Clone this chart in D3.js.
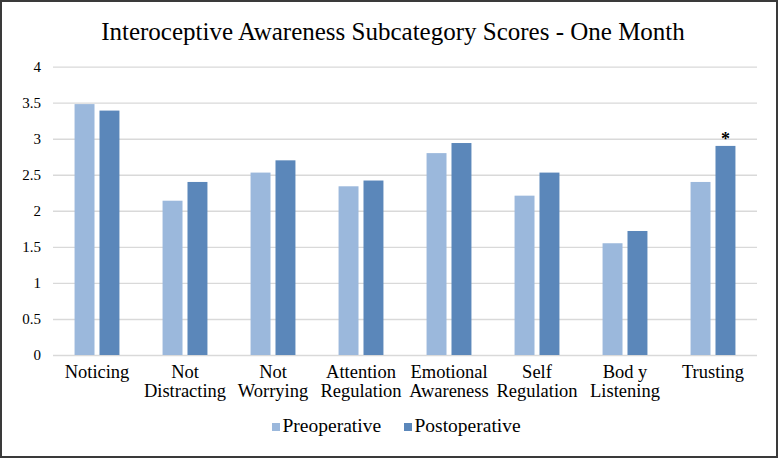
<!DOCTYPE html>
<html>
<head>
<meta charset="utf-8">
<script src="https://cdn.jsdelivr.net/npm/d3@7"></script>
<style>
  html, body { margin: 0; padding: 0; background: #fff; }
  svg { display: block; }
</style>
</head>
<body>
<svg id="chart" width="778" height="458"></svg>
<script>
const title = "Interoceptive Awareness Subcategory Scores - One Month";
const categories = ["Noticing", "Not\nDistracting", "Not\nWorrying", "Attention\nRegulation",
  "Emotional\nAwareness", "Self\nRegulation", "Bod y\nListening", "Trusting"];
const seriesNames = ["Preoperative", "Postoperative"];
const preoperative = [3.48, 2.14, 2.53, 2.34, 2.80, 2.21, 1.55, 2.40];
const postoperative = [3.39, 2.40, 2.70, 2.42, 2.94, 2.53, 1.72, 2.90];
const yTicks = [0, 0.5, 1, 1.5, 2, 2.5, 3, 3.5, 4];
const significant = ["Trusting"];
const colors = ["#9bb8dc", "#5b87ba"];

const FONT = "'Liberation Serif', 'Times New Roman', serif";
const svg = d3.select("#chart");
const W = 778, H = 458;

// frame
svg.append("rect").attr("x", 1).attr("y", 1).attr("width", W - 2).attr("height", H - 2)
  .attr("fill", "#fff").attr("stroke", "#3a3a3a").attr("stroke-width", 2);

// title
svg.append("text").attr("x", 393).attr("y", 40).attr("text-anchor", "middle")
  .style("font-family", FONT).style("font-size", "25px").attr("fill", "#000").text(title);

const plot = { left: 53, right: 757, top: 66.6, bottom: 355 };
const y = d3.scaleLinear().domain([0, 4]).range([plot.bottom, plot.top]);
const x0 = d3.scaleBand().domain(categories).range([plot.left, plot.right])
  .paddingInner(0.49).paddingOuter(0.245);
const x1 = d3.scaleBand().domain(seriesNames).range([0, x0.bandwidth()]).paddingInner(0.2);

// gridlines + y tick labels
const yAxis = d3.axisLeft(y).tickValues(yTicks).tickSize(-(plot.right - plot.left))
  .tickPadding(12).tickFormat(d => String(d));
const gy = svg.append("g").attr("transform", `translate(${plot.left},0)`).call(yAxis);
gy.select(".domain").remove();
gy.selectAll(".tick line").attr("stroke", "#d9d9d9").attr("stroke-width", 1.4);
gy.selectAll(".tick text").style("font-size", "15px")
  .style("font-family", FONT).attr("fill", "#000");

// bars
const rows = categories.map((c, i) => ({ cat: c, vals: [preoperative[i], postoperative[i]] }));
const groups = svg.append("g").selectAll("g").data(rows).join("g")
  .attr("transform", d => `translate(${x0(d.cat)},0)`);
groups.selectAll("rect").data(d => d.vals.map((v, j) => ({ key: seriesNames[j], v, j })))
  .join("rect")
  .attr("x", d => x1(d.key)).attr("width", x1.bandwidth())
  .attr("y", d => y(d.v)).attr("height", d => y(0) - y(d.v))
  .attr("fill", d => colors[d.j]);

// significance marker
rows.forEach(r => {
  if (significant.includes(r.cat)) {
    svg.append("text")
      .attr("x", x0(r.cat) + x1("Postoperative") + x1.bandwidth() / 2)
      .attr("y", y(r.vals[1]) - 1).attr("text-anchor", "middle")
      .style("font-family", FONT).style("font-size", "18px").style("font-weight", "bold")
      .attr("fill", "#000").text("*");
  }
});

// x labels
const xl = svg.append("g");
categories.forEach(c => {
  const cx = x0(c) + x0.bandwidth() / 2;
  const t = xl.append("text").attr("x", cx).attr("y", 378)
    .attr("text-anchor", "middle").style("font-family", FONT).style("font-size", "18.5px").attr("fill", "#000");
  c.split("\n").forEach((line, k) => {
    t.append("tspan").attr("x", cx).attr("dy", k === 0 ? 0 : 18.5).text(line);
  });
});

// legend
const legendX = [272, 404];
seriesNames.forEach((s, j) => {
  svg.append("rect").attr("x", legendX[j]).attr("y", 423).attr("width", 8).attr("height", 8)
    .attr("fill", colors[j]);
  svg.append("text").attr("x", legendX[j] + 10.5).attr("y", 431.5)
    .style("font-family", FONT).style("font-size", "19.5px").attr("fill", "#000").text(s);
});
</script>
</body>
</html>
